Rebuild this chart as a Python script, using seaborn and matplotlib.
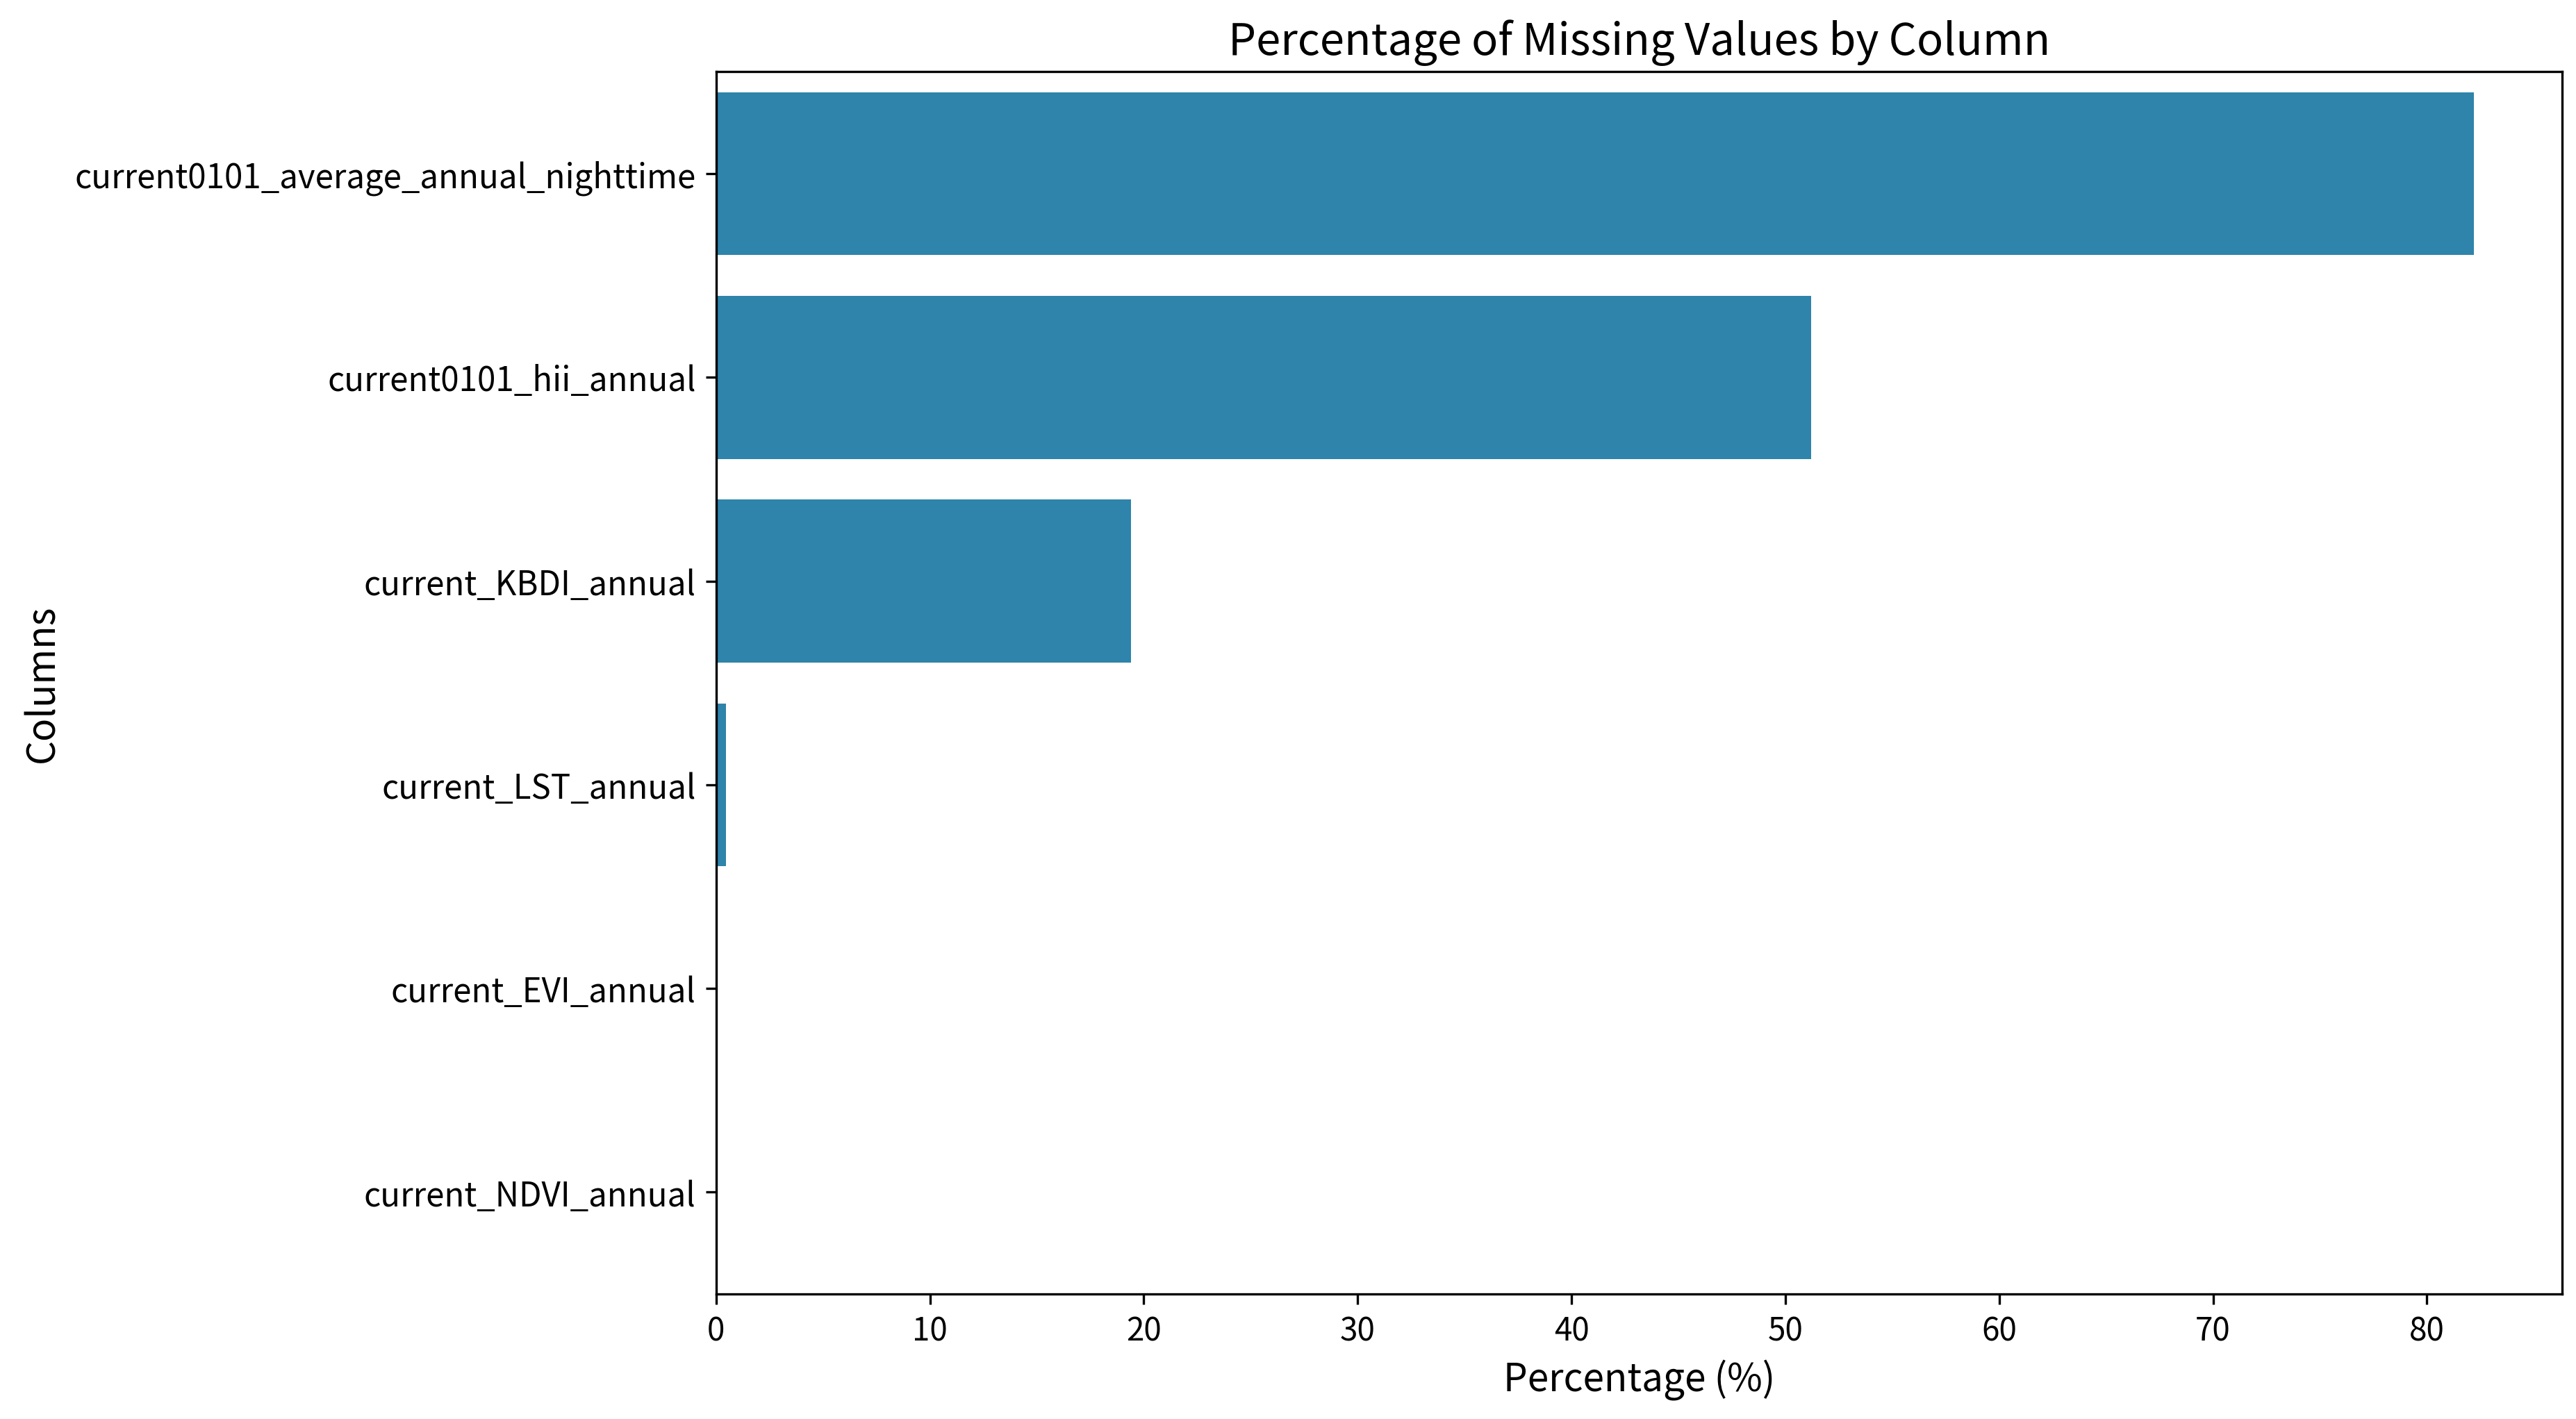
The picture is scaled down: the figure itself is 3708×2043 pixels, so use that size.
import numpy as np
import pandas as pd
import matplotlib
matplotlib.use("Agg")
import matplotlib.pyplot as plt
import seaborn as sns

# missing value percentages per column
columns = [
    "current0101_average_annual_nighttime",
    "current0101_hii_annual",
    "current_KBDI_annual",
    "current_LST_annual",
    "current_EVI_annual",
    "current_NDVI_annual",
]
missing_pct = [82.2, 51.2, 19.4, 0.45, 0.0, 0.0]

BAR_COLOR = "#2e84aa"

plt.rcParams["font.family"] = ["Noto Sans CJK SC", "DejaVu Sans"]

df = pd.DataFrame({"Column": columns, "Percentage": missing_pct})

fig = plt.figure(figsize=(12.36, 6.8133), dpi=300)
ax = fig.add_axes([0.278, 0.088, 0.7165, 0.861])
sns.barplot(data=df, x="Percentage", y="Column", color=BAR_COLOR,
            saturation=1, orient="h", ax=ax)

ax.set_title("Percentage of Missing Values by Column", fontsize=15.2)
ax.set_xlabel("Percentage (%)", fontsize=13.2)
ax.set_ylabel("Columns", fontsize=13.2)
ax.tick_params(axis="y", labelsize=11.4)
ax.tick_params(axis="x", labelsize=11)

fig.savefig("out.png", dpi=300)
